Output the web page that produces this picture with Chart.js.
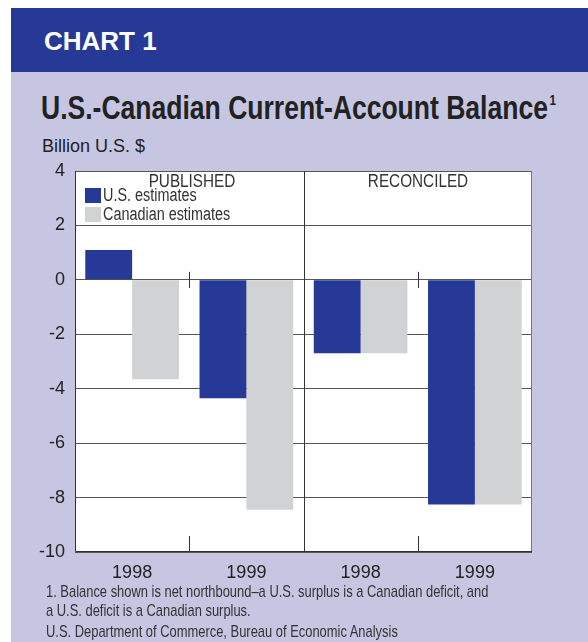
<!DOCTYPE html>
<html>
<head>
<meta charset="utf-8">
<script src="https://cdn.jsdelivr.net/npm/chart.js@4.4.1/dist/chart.umd.min.js"></script>
<style>
  body { margin: 0; width: 588px; height: 642px; position: relative; background: #fff; overflow: hidden;
         font-family: "Liberation Sans", Arial, sans-serif; color: #222; }
  #panel { position: absolute; left: 11px; top: 8px; width: 577px; height: 634px; background: #c6c6e2; }
  #band { position: absolute; left: 11px; top: 8px; width: 577px; height: 64px; background: #263996; }
  .t { position: absolute; white-space: nowrap; transform-origin: 0 50%; }
  #chartNo { left: 44px; top: 26px; font-weight: bold; font-size: 26px; color: #fff; }
  #title { left: 41px; top: 88px; font-weight: bold; font-size: 34px; color: #222; transform: scaleX(0.78); }
  #title sup { font-size: 15px; vertical-align: 14px; margin-left: 2px; }
  #unit { left: 42px; top: 136px; font-size: 18px; }
  .panelTitle { font-size: 18px; color: #333; top: 171px; }
  .leg { left: 85px; font-size: 18px; color: #333; }
  .leg span { display: inline-block; width: 16px; height: 15px; vertical-align: -2px; margin-right: 2px; }
  .leg b { display: inline-block; font-weight: normal; transform: scaleX(0.8); transform-origin: 0 50%; }
  .note { left: 46px; font-size: 17px; color: #333; transform: scaleX(0.76); }
  canvas { position: absolute; left: 0; top: 0; }
</style>
</head>
<body>
<div id="panel"></div>
<div id="band"></div>
<div class="t" id="chartNo">CHART 1</div>
<div class="t" id="title">U.S.-Canadian Current-Account Balance<sup>1</sup></div>
<div class="t" id="unit">Billion U.S. $</div>
<canvas id="chart" width="588" height="642"></canvas>
<div class="t panelTitle" id="pub"></div>
<div class="t panelTitle" id="rec"></div>
<div class="t leg" id="leg0" style="top:185px"></div>
<div class="t leg" id="leg1" style="top:204px"></div>
<div class="t note" style="top:582px">1. Balance shown is net northbound–a U.S. surplus is a Canadian deficit, and</div>
<div class="t note" style="top:601px">a U.S. deficit is a Canadian surplus.</div>
<div class="t note" style="top:622px">U.S. Department of Commerce, Bureau of Economic Analysis</div>
<script>
// data
const years = ['1998', '1999', '1998', '1999'];
const panels = ['PUBLISHED', 'RECONCILED'];
const usEstimates = [1.1, -4.35, -2.7, -8.25];
const canadianEstimates = [-3.65, -8.45, -2.7, -8.25];
const seriesNames = ['U.S. estimates', 'Canadian estimates'];
const yTicks = [4, 2, 0, -2, -4, -6, -8, -10];

const blue = '#263996';
const gray = '#d1d2d4';

document.getElementById('pub').textContent = panels[0];
document.getElementById('rec').textContent = panels[1];
document.getElementById('leg0').innerHTML = '<span style="background:' + blue + '"></span><b>' + seriesNames[0] + '</b>';
document.getElementById('leg1').innerHTML = '<span style="background:' + gray + '"></span><b>' + seriesNames[1] + '</b>';

// white plot area + dividers between groups
const plotDecor = {
    id: 'plotDecor',
    beforeDraw(chart) {
        const a = chart.chartArea;
        const c = chart.ctx;
        c.save();
        c.fillStyle = '#fff';
        c.fillRect(a.left, a.top, a.right - a.left, a.bottom - a.top);
        c.restore();
    },
    afterDatasetsDraw(chart) {
        const a = chart.chartArea;
        const c = chart.ctx;
        const x = chart.scales.x;
        const y0 = chart.scales.y.getPixelForValue(0);
        c.save();
        c.strokeStyle = '#333';
        c.lineWidth = 1;
        for (let i = 1; i < years.length; i++) {
            const px = Math.round((x.getPixelForValue(i - 1) + x.getPixelForValue(i)) / 2) + 0.5;
            c.beginPath();
            if (i === 2) {
                c.moveTo(px, a.top);
                c.lineTo(px, a.bottom);
            } else {
                c.moveTo(px, y0 - 8);
                c.lineTo(px, y0 + 8);
                c.moveTo(px, a.bottom - 16);
                c.lineTo(px, a.bottom);
            }
            c.stroke();
        }
        // frame
        c.strokeStyle = '#777';
        c.beginPath();
        c.moveTo(a.right - 0.5, a.top);
        c.lineTo(a.right - 0.5, a.bottom);
        c.stroke();
        c.strokeStyle = '#333';
        c.beginPath();
        c.moveTo(a.left + 0.5, a.top);
        c.lineTo(a.left + 0.5, a.bottom - 0.5);
        c.lineTo(a.right, a.bottom - 0.5);
        c.stroke();
        // positions for panel titles
        const mid = (x.getPixelForValue(1) + x.getPixelForValue(2)) / 2;
        const pub = document.getElementById('pub');
        const rec = document.getElementById('rec');
        pub.style.left = ((a.left + mid) / 2 + 3) + 'px';
        rec.style.left = ((mid + a.right) / 2) + 'px';
        pub.style.transform = 'translateX(-50%) scaleX(0.85)';
        rec.style.transform = 'translateX(-50%) scaleX(0.85)';
        pub.style.transformOrigin = rec.style.transformOrigin = '50% 50%';
        c.restore();
    }
};

new Chart(document.getElementById('chart'), {
    type: 'bar',
    data: {
        labels: years,
        datasets: [
            { label: seriesNames[0], data: usEstimates, backgroundColor: blue },
            { label: seriesNames[1], data: canadianEstimates, backgroundColor: gray }
        ]
    },
    options: {
        responsive: false,
        animation: false,
        events: [],
        layout: { padding: { top: 171, right: 56, bottom: 63, left: 0 } },
        datasets: { bar: { categoryPercentage: 0.82, barPercentage: 1, borderWidth: 0 } },
        plugins: { legend: { display: false }, tooltip: { enabled: false } },
        scales: {
            x: {
                grid: { display: false },
                border: { display: false },
                ticks: { color: '#222', font: { family: 'Liberation Sans', size: 18 }, padding: 2 },
                afterFit(s) { s.height = 27; }
            },
            y: {
                min: -10,
                max: 4,
                afterBuildTicks(s) { s.ticks = yTicks.map(v => ({ value: v })); },
                grid: { color: '#555', lineWidth: 1, drawTicks: false },
                border: { display: false },
                ticks: { color: '#222', font: { family: 'Liberation Sans', size: 18 }, padding: 10 },
                afterFit(s) { s.width = 75; }
            }
        }
    },
    plugins: [plotDecor]
});
</script>
</body>
</html>
